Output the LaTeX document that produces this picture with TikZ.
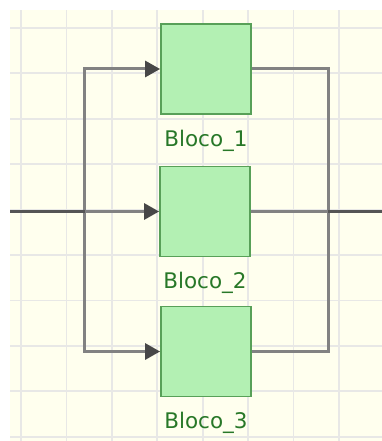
\documentclass[tikz,border=0pt]{standalone}
\usepackage{fontspec}
\setmainfont{DejaVu Sans}
\usetikzlibrary{arrows.meta,positioning}
\definecolor{paper}{RGB}{255, 255, 238}
\definecolor{gridgrey}{RGB}{232, 232, 230}
\definecolor{blockfill}{RGB}{179, 240, 179}
\definecolor{blockedge}{RGB}{88, 160, 88}
\definecolor{labelgreen}{RGB}{40, 120, 40}
\definecolor{wiredark}{RGB}{85, 85, 85}
\definecolor{wiregrey}{RGB}{130, 130, 130}
\tikzstyle{bloco} = [
  draw=blockedge,
  line width=1.8pt,
  fill=blockfill,
  minimum size=90pt,
  inner sep=0pt,
]
\tikzstyle{rotulo} = [
  text=labelgreen,
  font=\fontsize{21.5}{24}\selectfont,
  inner sep=0pt,
]
\tikzstyle{fio} = [
  draw=wiregrey,
  line width=3pt,
]
\tikzstyle{fioprincipal} = [
  draw=wiredark,
  line width=3.2pt,
]
\tikzstyle{seta} = [
  -{Triangle[length=15pt,width=16pt,color=black!72]},
]

\begin{document}
\begin{tikzpicture}[x=1pt,y=-1pt]
            \useasboundingbox (0,0) rectangle (382,441);

            % Background and grid
            \fill[paper] (10,10) rectangle (382,441);
            \foreach \i in {0,...,7}
                \draw[gridgrey, line width=1.8pt] (21+45.4*\i,10) -- (21+45.4*\i,441);
            \foreach \j in {0,...,9}
                \draw[gridgrey, line width=1.8pt] (10,28+45.4*\j) -- (382,28+45.4*\j);

            % Blocks
            \node[bloco] (b1) at (206,69) {};
            \node[bloco] (b2) at (205,211.5) {};
            \node[bloco] (b3) at (206,351.5) {};

            % Labels
            \node[rotulo, below=15pt of b1] (l1) {Bloco\_1};
            \node[rotulo, below=15pt of b2] (l2) {Bloco\_2};
            \node[rotulo, below=15pt of b3] (l3) {Bloco\_3};

            % Branch points
            \coordinate (entrada) at (10,211.5);
            \coordinate (saida) at (382,211.5);
            \coordinate (divide) at (84.5,211.5);
            \coordinate (junta) at (328,211.5);

            % Wires
            \draw[fio] (b1.east) -| (junta);
            \draw[fio] (b3.east) -| (junta);
            \draw[fio] (b2.east) -- (junta);
            \draw[fio, seta] (divide) |- (b1.west);
            \draw[fio, seta] (divide) |- (b3.west);
            \draw[fio, seta] (divide) -- (b2.west);
            \draw[fioprincipal] (entrada) -- (divide);
            \draw[fioprincipal] (junta) -- (saida);
          \end{tikzpicture}
\end{document}
